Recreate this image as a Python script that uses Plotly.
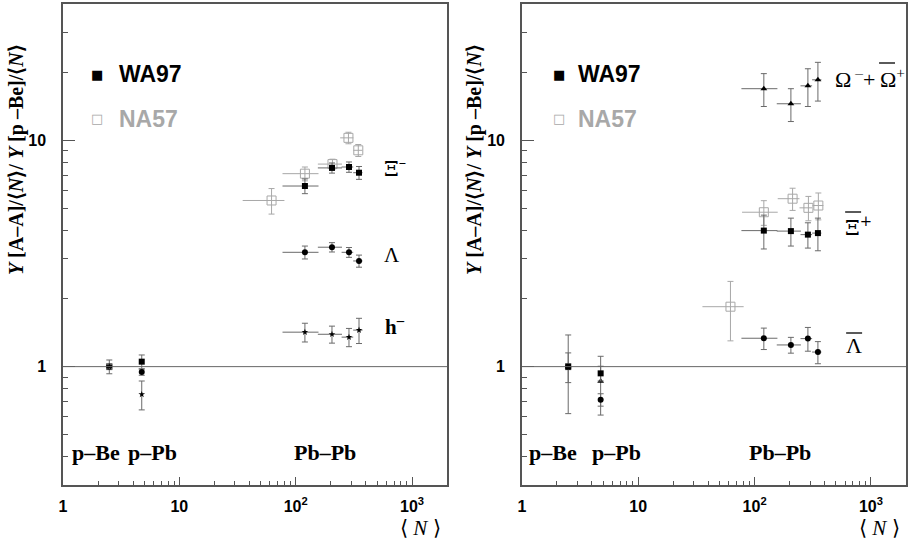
import numpy as np
import plotly.graph_objects as go

# ---------------- data ----------------
N_pBe = 2.5
N_pPb = 4.75
N_PbPb = [120, 205, 287, 350]
N_PbPb_lo = [77, 155, 248, 312]
N_PbPb_hi = [157, 250, 312, 375]

# left panel
xi_m_wa97 = [1.0, 1.052, 6.28, 7.55, 7.62, 7.19]
xi_m_wa97_err = [0.07, 0.074, 0.47, 0.39, 0.40, 0.47]
lam_wa97 = [1.0, 0.946, 3.20, 3.37, 3.20, 2.93]
lam_wa97_err = [0.03, 0.03, 0.21, 0.16, 0.16, 0.18]
hneg_wa97 = [1.0, 0.754, 1.42, 1.39, 1.35, 1.45]
hneg_wa97_err = [0.02, 0.11, 0.135, 0.12, 0.125, 0.185]

N_na57_xi = [62, 120, 207, 284, 345]
N_na57_xi_lo = [35, 77, 155, 241, 313]
N_na57_xi_hi = [80, 157, 250, 313, 374]
xi_m_na57 = [5.42, 7.12, 7.85, 10.25, 9.03]
xi_m_na57_err = [0.70, 0.50, 0.40, 0.60, 0.55]

# right panel
omega_wa97 = [1.0, 0.861, 16.9, 14.5, 17.4, 18.5]
omega_wa97_err = [0.38, 0.25, 2.8, 2.4, 3.3, 3.6]
xibar_wa97 = [1.0, 0.934, 3.99, 3.97, 3.83, 3.89]
xibar_wa97_err = [0.15, 0.07, 0.68, 0.56, 0.49, 0.64]
lambar_wa97 = [1.0, 0.714, 1.335, 1.247, 1.33, 1.16]
lambar_wa97_err = [0.03, 0.045, 0.145, 0.10, 0.16, 0.13]

N_na57_xibar = [120, 212, 290, 353]
N_na57_xibar_lo = [78, 158, 243, 315]
N_na57_xibar_hi = [158, 243, 312, 390]
xibar_na57 = [4.81, 5.52, 5.03, 5.15]
xibar_na57_err = [0.60, 0.62, 0.62, 0.70]

N_na57_lambar = [62]
N_na57_lambar_lo = [35.6]
N_na57_lambar_hi = [80.5]
lambar_na57 = [1.84]
lambar_na57_err = [0.54]

x_ticks = [1, 10, 100, 1000]
x_ticktext = ["1", "10", "10<sup>2</sup>", "10<sup>3</sup>"]
y_ticks = [1, 10]
y_ticktext = ["1", "10"]

# ---------------- helpers ----------------
BLACK_ERR = "#6a6a6a"
GREY = "#a8a8a8"

N_all = [N_pBe, N_pPb] + N_PbPb
xerr_plus = [0, 0] + [h - c for h, c in zip(N_PbPb_hi, N_PbPb)]
xerr_minus = [0, 0] + [c - l for l, c in zip(N_PbPb_lo, N_PbPb)]


def wa97_trace(y, yerr, symbol, size, xa, ya):
    return go.Scatter(
        x=N_all, y=y, mode="markers", xaxis=xa, yaxis=ya, showlegend=False,
        marker=dict(symbol=symbol, size=size, color="black", line=dict(width=0)),
        error_y=dict(type="data", array=yerr, color=BLACK_ERR, thickness=1, width=3),
        error_x=dict(type="data", symmetric=False, array=xerr_plus,
                     arrayminus=xerr_minus, color=BLACK_ERR, thickness=1, width=0),
    )


def na57_trace(x, lo, hi, y, yerr, xa, ya):
    return go.Scatter(
        x=x, y=y, mode="markers", xaxis=xa, yaxis=ya, showlegend=False,
        marker=dict(symbol="square-open", size=9, color=GREY, line=dict(width=1, color=GREY)),
        error_y=dict(type="data", array=yerr, color=GREY, thickness=1, width=3),
        error_x=dict(type="data", symmetric=False,
                     array=[h - c for h, c in zip(hi, x)],
                     arrayminus=[c - l for l, c in zip(lo, x)],
                     color=GREY, thickness=1, width=0),
    )


fig = go.Figure()
# left
fig.add_trace(na57_trace(N_na57_xi, N_na57_xi_lo, N_na57_xi_hi, xi_m_na57, xi_m_na57_err, "x", "y"))
fig.add_trace(wa97_trace(xi_m_wa97, xi_m_wa97_err, "square", 6, "x", "y"))
fig.add_trace(wa97_trace(lam_wa97, lam_wa97_err, "circle", 6, "x", "y"))
fig.add_trace(wa97_trace(hneg_wa97, hneg_wa97_err, "star", 5, "x", "y"))
# right
fig.add_trace(na57_trace(N_na57_xibar, N_na57_xibar_lo, N_na57_xibar_hi, xibar_na57, xibar_na57_err, "x2", "y2"))
fig.add_trace(na57_trace(N_na57_lambar, N_na57_lambar_lo, N_na57_lambar_hi, lambar_na57, lambar_na57_err, "x2", "y2"))
fig.add_trace(wa97_trace(omega_wa97, omega_wa97_err, "triangle-up", 6, "x2", "y2"))
fig.add_trace(wa97_trace(lambar_wa97, lambar_wa97_err, "circle", 6, "x2", "y2"))
fig.add_trace(wa97_trace(xibar_wa97, xibar_wa97_err, "square", 6, "x2", "y2"))

AX = "#555555"
x_minor = [m * d for d in (1, 10, 100, 1000) for m in range(2, 10) if m * d <= 2000]
y_minor = [0.3, 0.4, 0.5, 0.6, 0.7, 0.8, 0.9] + list(range(2, 10)) + [20, 30, 40]

xax = dict(type="log", range=[0, np.log10(2000)], tickmode="array", tickvals=x_ticks,
           ticktext=x_ticktext, ticks="inside", ticklen=8, tickwidth=1, tickcolor=AX,
           showline=True, linecolor=AX, linewidth=1.5, mirror=True, showgrid=False,
           zeroline=False, ticklabelstandoff=6,
           tickfont=dict(family="Liberation Sans", size=16, color="black", weight="bold"),
           minor=dict(tickmode="array", tickvals=x_minor, ticks="inside", ticklen=4,
                      tickwidth=1, tickcolor=AX, showgrid=False))
yax = dict(type="log", range=[np.log10(0.3), np.log10(40)], tickmode="array", tickvals=y_ticks,
           ticktext=y_ticktext, ticks="inside", ticklen=12, tickwidth=1, tickcolor=AX,
           showline=True, linecolor=AX, linewidth=1.5, mirror=True, showgrid=False,
           zeroline=False, ticklabelstandoff=12,
           tickfont=dict(family="Liberation Sans", size=16, color="black", weight="bold"),
           minor=dict(tickmode="array", tickvals=y_minor, ticks="inside", ticklen=5,
                      tickwidth=1, tickcolor=AX, showgrid=False))

L0, R0 = 63, 908
T0, B0 = 4, 485
W = R0 - L0
H = B0 - T0


def px(xp):
    return (xp - L0) / W


def py(yp):
    return (B0 - yp) / H


fig.update_layout(
    width=909, height=542,
    margin=dict(l=L0, r=909 - R0, t=T0, b=542 - B0),
    paper_bgcolor="white", plot_bgcolor="white",
    xaxis=dict(xax, domain=[0, px(448)], anchor="y"),
    yaxis=dict(yax, domain=[0, 1], anchor="x"),
    xaxis2=dict(xax, domain=[px(523), 1], anchor="y2"),
    yaxis2=dict(yax, domain=[0, 1], anchor="x2"),
    showlegend=False,
)

# horizontal reference line at 1
for xr, yr in (("x domain", "y"), ("x2 domain", "y2")):
    fig.add_shape(type="line", xref=xr, yref=yr, x0=0, x1=1, y0=1, y1=1,
                  line=dict(color="#666666", width=1))

# overlines for anti-particle labels
for x0, x1, yy in ((881, 897, 63), (847, 863, 212), (848, 864, 333)):
    fig.add_shape(type="line", xref="paper", yref="paper", x0=px(x0), x1=px(x1),
                  y0=py(yy), y1=py(yy), line=dict(color="black", width=1.3))

SERIF = "Liberation Serif"
ann = []


def A(text, xp, yp, size=20, color="black", family=SERIF, weight="normal",
      xanchor="center", angle=0):
    ann.append(dict(text=text, x=px(xp), y=py(yp), xref="paper", yref="paper",
                    showarrow=False, xanchor=xanchor, yanchor="middle", textangle=angle,
                    font=dict(family=family, size=size, color=color, weight=weight)))


ytitle = "<i>Y</i> [A–A]/⟨<i>N</i>⟩/ <i>Y</i> [p –Be]/⟨<i>N</i>⟩"
for xc in (16, 475):
    A(ytitle, xc, 160, size=20, weight="bold", angle=-90)
for xc in (421, 881):
    A("⟨ <i>N</i> ⟩", xc, 528, size=21)

# legends
for mx, tx in ((97, 117), (560, 577)):
    A("■", mx, 74, size=13, family="DejaVu Sans")
    A("WA97", tx, 74, size=23, family="Liberation Sans", weight="bold", xanchor="left")
    A("□", mx, 119, size=13, family="DejaVu Sans", color=GREY)
    A("NA57", tx, 119, size=23, family="Liberation Sans", weight="bold", color=GREY, xanchor="left")

# system labels
for xc, t in ((96, "p–Be"), (153, "p–Pb"), (326, "Pb–Pb"),
              (554, "p–Be"), (618, "p–Pb"), (782, "Pb–Pb")):
    A(t, xc, 452, size=22, weight="bold")

# particle labels
A("Ξ<sup>–</sup>", 396, 167, size=21, family="DejaVu Serif")
A("Λ", 393, 255, size=21)
A("h<sup>–</sup>", 396, 326, size=21, weight="bold")
A("Ω<sup> –</sup>+", 879, 78, size=22, xanchor="right")
A("Ω<sup>+</sup>", 880, 78, size=22, xanchor="left")
A("Ξ<sup>+</sup>", 860, 226, size=21, family="DejaVu Serif")
A("Λ", 856, 346, size=22)

fig.update_layout(annotations=ann)
fig.write_html("out.html")
